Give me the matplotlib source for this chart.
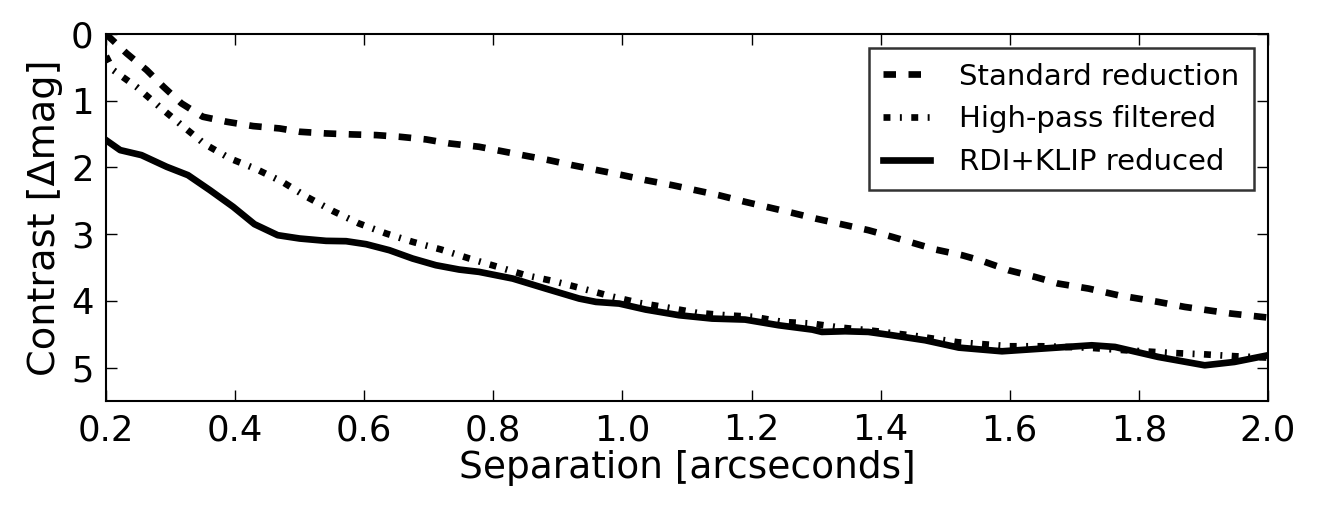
import matplotlib
matplotlib.use("Agg")
import matplotlib.pyplot as plt

plt.rcParams['font.family'] = ['DejaVu Sans']
plt.rcParams['lines.scale_dashes'] = False

# Standard reduction
x_std = [0.20, 0.232, 0.263, 0.289, 0.317, 0.35, 0.387, 0.428, 0.469, 0.50, 0.541, 0.582,
         0.619, 0.655, 0.696, 0.732, 0.778, 0.845, 0.886, 0.922, 1.0, 1.036, 1.077, 1.149,
         1.19, 1.263, 1.299, 1.381, 1.418, 1.485, 1.526, 1.557, 1.598, 1.639, 1.675, 1.722,
         1.768, 1.83, 1.871, 1.907, 1.943, 2.0]
y_std = [0.0, 0.29, 0.54, 0.79, 1.04, 1.24, 1.315, 1.38, 1.415, 1.465, 1.49, 1.505,
         1.515, 1.54, 1.58, 1.64, 1.69, 1.815, 1.89, 1.965, 2.115, 2.19, 2.265, 2.415,
         2.515, 2.68, 2.765, 2.94, 3.04, 3.23, 3.315, 3.40, 3.54, 3.64, 3.74, 3.815,
         3.915, 4.015, 4.09, 4.14, 4.19, 4.25]

# High-pass filtered
x_hp = [0.20, 0.211, 0.247, 0.284, 0.317, 0.353, 0.392, 0.433, 0.473, 0.511, 0.552, 0.592,
        0.634, 0.675, 0.719, 0.763, 0.807, 0.85, 0.894, 0.938, 0.982, 1.026, 1.07, 1.116,
        1.16, 1.204, 1.248, 1.293, 1.338, 1.381, 1.45, 1.52, 1.60, 1.65, 1.72, 1.78, 1.85,
        1.90, 1.95, 2.0]
y_hp = [0.33, 0.54, 0.79, 1.10, 1.365, 1.65, 1.865, 2.025, 2.215, 2.44, 2.655, 2.84,
        2.99, 3.115, 3.23, 3.365, 3.49, 3.615, 3.705, 3.815, 3.93, 4.03, 4.10, 4.18,
        4.215, 4.24, 4.315, 4.34, 4.40, 4.44, 4.52, 4.62, 4.68, 4.68, 4.70, 4.74, 4.78,
        4.80, 4.83, 4.85]

# RDI+KLIP reduced
x_rdi = [0.20, 0.222, 0.255, 0.294, 0.327, 0.361, 0.397, 0.430, 0.466, 0.50, 0.541, 0.572,
         0.603, 0.639, 0.675, 0.711, 0.747, 0.778, 0.830, 0.881, 0.933, 0.959, 0.995, 1.036,
         1.088, 1.139, 1.19, 1.242, 1.294, 1.309, 1.345, 1.381, 1.418, 1.469, 1.521, 1.588,
         1.65, 1.727, 1.763, 1.83, 1.902, 1.948, 2.0]
y_rdi = [1.59, 1.74, 1.815, 1.99, 2.115, 2.34, 2.59, 2.85, 3.015, 3.065, 3.10, 3.105,
         3.15, 3.24, 3.365, 3.465, 3.53, 3.565, 3.665, 3.815, 3.965, 4.015, 4.04, 4.13,
         4.215, 4.265, 4.28, 4.365, 4.43, 4.465, 4.455, 4.465, 4.515, 4.59, 4.70, 4.755,
         4.715, 4.665, 4.69, 4.84, 4.965, 4.915, 4.815]

labels = ["Standard reduction", "High-pass filtered", "RDI+KLIP reduced"]
x_ticks = [0.2, 0.4, 0.6, 0.8, 1.0, 1.2, 1.4, 1.6, 1.8, 2.0]
y_ticks = [0, 1, 2, 3, 4, 5]

fig = plt.figure(figsize=(13.23, 5.07), dpi=100)
ax = fig.add_axes([0.0801, 0.2091, 0.8783, 0.7238])

lw = 4.8
ax.plot(x_std, y_std, color='black', lw=lw, label=labels[0],
        linestyle=(0, (9, 9)), dash_capstyle='butt')
ax.plot(x_hp, y_hp, color='black', lw=lw, label=labels[1],
        linestyle=(0, (5, 6.8, 1.4, 6.8)), dash_capstyle='butt')
ax.plot(x_rdi, y_rdi, color='black', lw=lw, label=labels[2], solid_joinstyle='round')

ax.set_xlim(0.2, 2.0)
ax.set_ylim(5.5, 0)
ax.set_xticks(x_ticks)
ax.set_xticklabels([f"{t:.1f}" for t in x_ticks])
ax.set_yticks(y_ticks)
ax.set_yticklabels([str(t) for t in y_ticks])
ax.tick_params(direction='in', top=True, right=True, length=8, width=1,
               labelsize=25.5, pad=9)
for s in ax.spines.values():
    s.set_linewidth(1.5)

ax.set_xlabel("Separation [arcseconds]", fontsize=27, labelpad=2)
ax.set_ylabel("Contrast [\u0394mag]", fontsize=27.5, labelpad=6)

leg = ax.legend(loc='upper right', fontsize=21, frameon=True, fancybox=False,
                edgecolor='black', handlelength=1.6, borderaxespad=0.48,
                handletextpad=1.0, labelspacing=0.5, borderpad=0.5)
leg.get_frame().set_linewidth(1.8)

fig.savefig("out.png", dpi=100)
